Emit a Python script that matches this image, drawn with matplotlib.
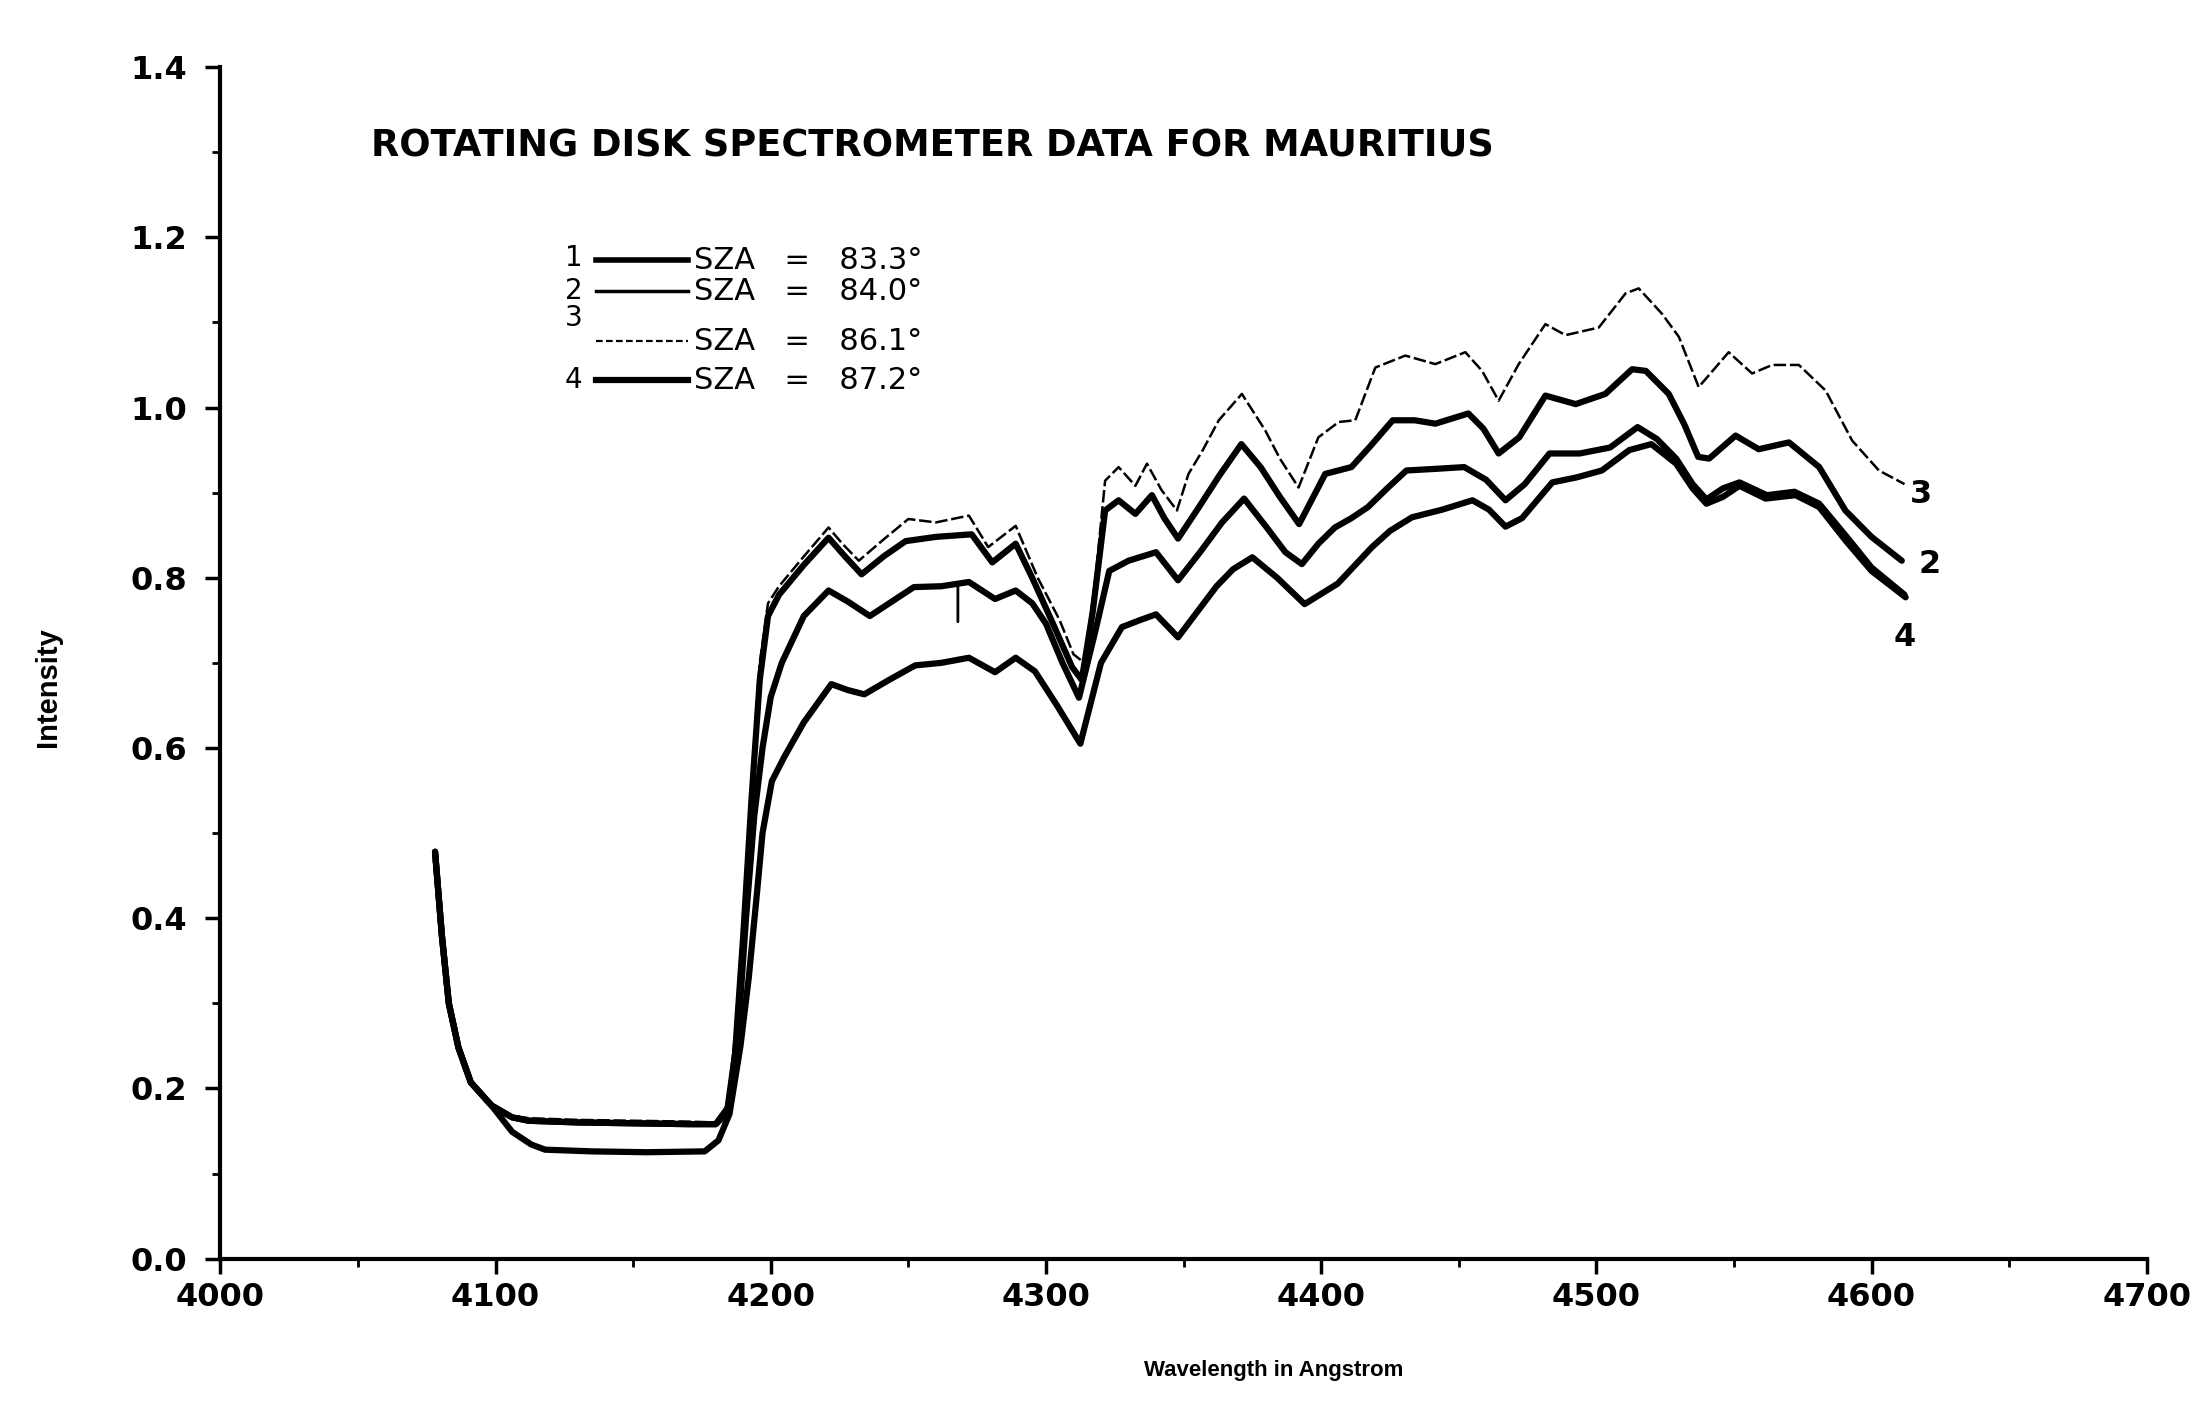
import matplotlib
matplotlib.use("Agg")
import matplotlib.pyplot as plt
import numpy as np

# ---- data (wavelength in Angstrom, intensity) ----
wl1 = [4078, 4080.5, 4083, 4086.5, 4091, 4098.5, 4106, 4112, 4130, 4150,
       4170, 4180, 4185, 4188, 4191, 4194, 4197, 4200, 4204, 4212,
       4221, 4228, 4236, 4244, 4252, 4262, 4272, 4281.5, 4289, 4295,
       4300, 4306, 4312, 4318, 4323, 4330, 4340, 4348, 4356, 4364,
       4372, 4380, 4387, 4393, 4399, 4405, 4411, 4417, 4424, 4431,
       4442, 4452, 4460, 4467, 4474, 4483, 4494, 4505, 4515, 4522,
       4529, 4535, 4540, 4546, 4552, 4562, 4572, 4581, 4591, 4600, 4612]
int1 = [0.478, 0.379, 0.30, 0.248, 0.207, 0.18, 0.166, 0.162, 0.16, 0.159,
        0.158, 0.158, 0.18, 0.26, 0.40, 0.52, 0.60, 0.66, 0.70, 0.755,
        0.785, 0.772, 0.755, 0.772, 0.789, 0.79, 0.795, 0.775, 0.785, 0.77,
        0.746, 0.70, 0.659, 0.738, 0.808, 0.82, 0.83, 0.797, 0.83, 0.865,
        0.893, 0.86, 0.83, 0.816, 0.84, 0.859, 0.87, 0.883, 0.905, 0.926,
        0.928, 0.93, 0.915, 0.891, 0.91, 0.946, 0.946, 0.953, 0.977, 0.963,
        0.94, 0.91, 0.892, 0.905, 0.912, 0.897, 0.901, 0.887, 0.848, 0.812, 0.78]

wl2 = [4078, 4080.5, 4083, 4086.5, 4091, 4098.5, 4106, 4112, 4130, 4150,
       4170, 4180, 4184, 4187, 4190, 4193, 4196, 4199, 4203, 4212,
       4221, 4227, 4233, 4241, 4249, 4260, 4273, 4280.5, 4289, 4295,
       4302, 4309.5, 4313, 4317, 4321.5, 4326.4, 4332.5, 4338.5, 4343, 4348,
       4355, 4363, 4371, 4378, 4385, 4392, 4401.5, 4411, 4418, 4426,
       4434, 4441.5, 4453.5, 4459, 4464.5, 4472, 4481.5, 4492.5, 4503.3, 4513,
       4518, 4526.3, 4532, 4537, 4541, 4550.6, 4559, 4570, 4581, 4590.5,
       4600, 4611]
int2 = [0.478, 0.379, 0.30, 0.248, 0.207, 0.18, 0.166, 0.162, 0.16, 0.159,
        0.158, 0.158, 0.17, 0.24, 0.38, 0.54, 0.68, 0.755, 0.78, 0.815,
        0.847, 0.825, 0.804, 0.825, 0.843, 0.848, 0.851, 0.818, 0.84, 0.80,
        0.75, 0.695, 0.68, 0.76, 0.879, 0.891, 0.875, 0.897, 0.87, 0.846,
        0.88, 0.92, 0.957, 0.93, 0.895, 0.863, 0.922, 0.93, 0.955, 0.985,
        0.985, 0.981, 0.993, 0.975, 0.946, 0.965, 1.014, 1.004, 1.016, 1.045,
        1.043, 1.016, 0.98, 0.942, 0.94, 0.967, 0.951, 0.959, 0.93, 0.879,
        0.848, 0.82]

wl3 = [4078, 4080.5, 4083, 4086.5, 4091, 4098.5, 4106, 4112, 4130, 4150,
       4170, 4180, 4184, 4187, 4190, 4193, 4196, 4199, 4203, 4212,
       4221, 4226, 4232, 4241, 4250, 4260, 4272, 4279, 4289, 4297,
       4305, 4310, 4314, 4318, 4321.5, 4326.4, 4332.5, 4336.7, 4342, 4347.6,
       4351.8, 4357, 4362.8, 4371.2, 4379.7, 4385, 4391.8, 4399, 4406.4, 4412.4,
       4419.7, 4430.6, 4441.5, 4452.4, 4458.5, 4464.5, 4471.8, 4481.5, 4488.8, 4500.9,
       4510.6, 4515.4, 4523.9, 4530, 4537.2, 4548.1, 4556.6, 4563.9, 4573.6, 4583.3,
       4593, 4602.7, 4612]
int3 = [0.478, 0.379, 0.30, 0.248, 0.207, 0.18, 0.168, 0.165, 0.163, 0.162,
        0.161, 0.16, 0.175, 0.26, 0.40, 0.56, 0.70, 0.77, 0.79, 0.825,
        0.859, 0.84, 0.82, 0.845, 0.869, 0.865, 0.873, 0.836, 0.861, 0.80,
        0.75, 0.71, 0.70, 0.80, 0.914, 0.93, 0.908, 0.934, 0.903, 0.879,
        0.922, 0.95, 0.985, 1.016, 0.973, 0.94, 0.906, 0.965, 0.983, 0.985,
        1.047, 1.061, 1.051, 1.065, 1.043, 1.008, 1.051, 1.098, 1.085, 1.094,
        1.134, 1.14, 1.11, 1.083, 1.024, 1.065, 1.04, 1.05, 1.05, 1.02,
        0.961, 0.926, 0.91]

wl4 = [4078, 4080.5, 4083, 4086.5, 4091, 4098.5, 4106, 4113, 4118, 4135,
       4155, 4176, 4181, 4185, 4189, 4192, 4195, 4197, 4200.4, 4205,
       4212, 4222, 4228, 4234, 4243, 4252.5, 4262, 4272, 4281.5, 4289,
       4296, 4304, 4312.5, 4320, 4327.6, 4334, 4340, 4348, 4355, 4362,
       4368, 4375, 4384, 4394, 4406, 4418.5, 4425, 4433, 4444, 4455,
       4461, 4467, 4473, 4484, 4493, 4502, 4512, 4520, 4529, 4535,
       4540, 4546, 4552, 4561.5, 4572.4, 4581, 4590.5, 4600, 4612.4]
int4 = [0.478, 0.379, 0.30, 0.248, 0.207, 0.18, 0.149, 0.134, 0.128, 0.126,
        0.125, 0.126, 0.139, 0.17, 0.25, 0.33, 0.43, 0.50, 0.561, 0.59,
        0.63, 0.675, 0.668, 0.663, 0.68, 0.697, 0.70, 0.706, 0.689, 0.706,
        0.69, 0.65, 0.605, 0.70, 0.742, 0.75, 0.757, 0.73, 0.76, 0.79,
        0.81, 0.824, 0.80, 0.769, 0.793, 0.836, 0.855, 0.871, 0.88, 0.891,
        0.88, 0.86, 0.87, 0.912, 0.918, 0.926, 0.95, 0.957, 0.934, 0.905,
        0.887, 0.895, 0.908, 0.893, 0.897, 0.883, 0.844, 0.808, 0.777]

curve_ids = ["1", "2", "3", "4"]
sza_labels = ["SZA   =   83.3\u00b0", "SZA   =   84.0\u00b0",
              "SZA   =   86.1\u00b0", "SZA   =   87.2\u00b0"]
x_ticks = [4000, 4100, 4200, 4300, 4400, 4500, 4600, 4700]
y_ticks = [0.0, 0.2, 0.4, 0.6, 0.8, 1.0, 1.2, 1.4]

WIDE = "DejaVu Sans"       # wide, heavy lettering of the scan
NARROW = "Liberation Sans"  # condensed axis captions
INK = "black"

fig = plt.figure(figsize=(22.04, 14.27), dpi=100)
ax = fig.add_axes([0.100, 0.118, 0.874, 0.835])

# solid curves are heavy, SZA 86.1 is a thin broken trace
styles = {
    "1": dict(lw=4.5, ls="-"),
    "2": dict(lw=4.5, ls="-"),
    "3": dict(lw=1.8, ls=(0, (5, 1.5))),
    "4": dict(lw=4.5, ls="-"),
}
series = {"1": (wl1, int1), "2": (wl2, int2), "3": (wl3, int3), "4": (wl4, int4)}
for cid in ["4", "1", "2", "3"]:
    x, y = series[cid]
    ax.plot(x, y, color=INK, solid_capstyle="round", **styles[cid])

ax.set_xlim(4000, 4700)
ax.set_ylim(0.0, 1.4)
ax.set_xticks(x_ticks)
ax.set_yticks(y_ticks)
ax.set_xticks(np.arange(4050, 4700, 100), minor=True)
ax.set_yticks(np.arange(0.1, 1.4, 0.2), minor=True)
ax.set_xticklabels([str(t) for t in x_ticks])
ax.set_yticklabels([f"{t:.1f}" for t in y_ticks])

for side in ["top", "right"]:
    ax.spines[side].set_visible(False)
for side in ["left", "bottom"]:
    ax.spines[side].set_linewidth(3)
ax.tick_params(which="major", direction="out", length=11, width=2.5,
               labelsize=23)
ax.tick_params(axis="y", which="major", pad=13)
ax.tick_params(axis="x", which="major", pad=6)
ax.tick_params(which="minor", direction="out", length=6, width=2)
for lab in ax.get_xticklabels() + ax.get_yticklabels():
    lab.set_fontfamily(WIDE)
    lab.set_fontweight("bold")

ax.set_xlabel("Wavelength in Angstrom", fontsize=16, fontweight="bold",
              family=NARROW)
ax.xaxis.set_label_coords(0.547, -0.085)
ax.set_ylabel("Intensity", fontsize=21, fontweight="bold", family=NARROW)
ax.yaxis.set_label_coords(-0.082, 0.48)

ax.text(0.078, 0.934, "ROTATING DISK SPECTROMETER DATA FOR MAURITIUS",
        transform=ax.transAxes, fontsize=26.5, fontweight="bold", family=WIDE,
        va="center", ha="left")

# hand-drawn legend block
leg_y = [0.838, 0.812, 0.770, 0.737]
num_dy = [0.002, 0.0, 0.019, 0.0]
leg_lw = [4.0, 2.5, 1.6, 4.5]
leg_ls = ["-", "-", (0, (3, 1.5)), "-"]
for i, cid in enumerate(curve_ids):
    yy = leg_y[i]
    ax.text(0.188, yy + num_dy[i], cid, transform=ax.transAxes, fontsize=20,
            family=WIDE, ha="right", va="center")
    ax.plot([0.195, 0.243], [yy, yy], transform=ax.transAxes, color=INK,
            lw=leg_lw[i], ls=leg_ls[i])
    ax.text(0.246, yy, sza_labels[i], transform=ax.transAxes, fontsize=22,
            family=WIDE, ha="left", va="center")

# curve end labels
end_labels = {"3": (4618, 0.898), "2": (4621, 0.815), "4": (4612, 0.730)}
for cid, (xx, yy) in end_labels.items():
    ax.text(xx, yy, cid, fontsize=23, family=WIDE, fontweight="bold",
            ha="center", va="center")
# marker tick for curve 1
ax.annotate("", xy=(4268, 0.745), xytext=(4268, 0.795),
            arrowprops=dict(arrowstyle="-", lw=2, color=INK))

fig.savefig("out.png", dpi=100)
